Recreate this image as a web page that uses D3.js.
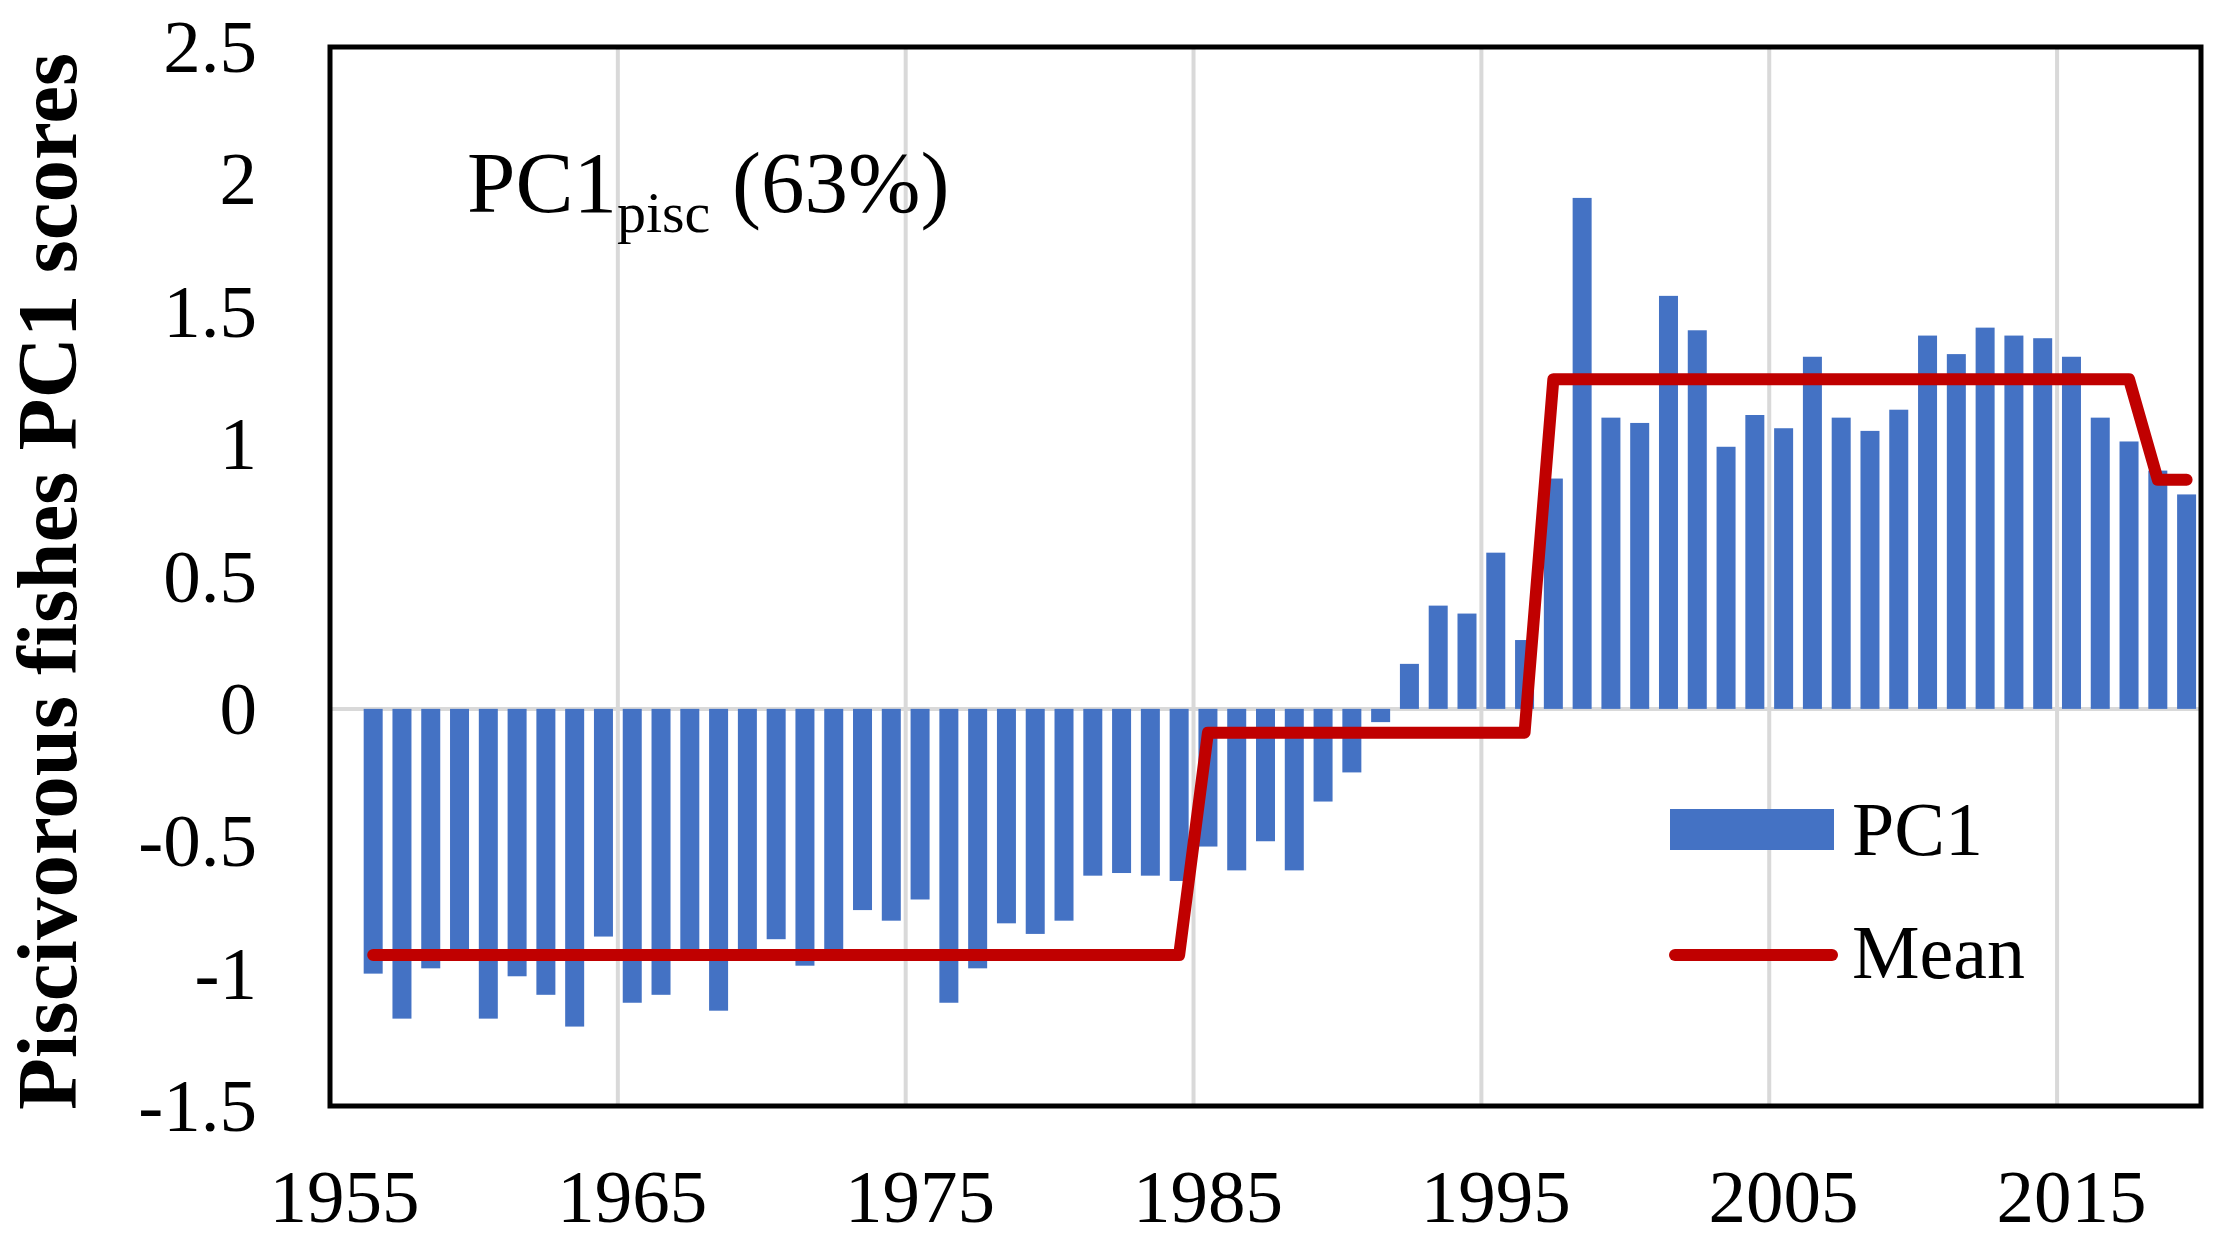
<!DOCTYPE html>
<html>
<head>
<meta charset="utf-8">
<script src="https://d3js.org/d3.v7.min.js"></script>
<style>
  body { margin: 0; background: #fff; }
  svg { display: block; }
  text { font-family: "Liberation Serif", "Times New Roman", serif; fill: #000; }
</style>
</head>
<body>
<svg id="chart" width="2217" height="1238" viewBox="0 0 2217 1238"></svg>
<script>
// years on the category axis (1955 has no value)
const years = d3.range(1955, 2020);

// PC1 scores, 1956..2019
const pcYears = d3.range(1956, 2020);
const pcValues = [
  -1.00, -1.17, -0.98, -0.92, -1.17, -1.01, -1.08, -1.20, -0.86,
  -1.11, -1.08, -0.93, -1.14, -0.94, -0.87, -0.97, -0.92, -0.76, -0.80,
  -0.72, -1.11, -0.98, -0.81, -0.85, -0.80, -0.63, -0.62, -0.63, -0.65,
  -0.52, -0.61, -0.50, -0.61, -0.35, -0.24, -0.05, 0.17, 0.39, 0.36,
  0.59, 0.26, 0.87, 1.93, 1.10, 1.08, 1.56, 1.43, 0.99, 1.11,
  1.06, 1.33, 1.10, 1.05, 1.13, 1.41, 1.34, 1.44, 1.41, 1.40,
  1.33, 1.10, 1.01, 0.90, 0.81
];

// regime means, 1956..2019
const meanValues = [
  -0.93, -0.93, -0.93, -0.93, -0.93, -0.93, -0.93, -0.93, -0.93,
  -0.93, -0.93, -0.93, -0.93, -0.93, -0.93, -0.93, -0.93, -0.93, -0.93,
  -0.93, -0.93, -0.93, -0.93, -0.93, -0.93, -0.93, -0.93, -0.93, -0.93,
  -0.09, -0.09, -0.09, -0.09, -0.09, -0.09, -0.09, -0.09, -0.09, -0.09,
  -0.09, -0.09, 1.245, 1.245, 1.245, 1.245, 1.245, 1.245, 1.245, 1.245,
  1.245, 1.245, 1.245, 1.245, 1.245, 1.245, 1.245, 1.245, 1.245, 1.245,
  1.245, 1.245, 1.245, 0.865, 0.865
];

const yTicks = [2.5, 2, 1.5, 1, 0.5, 0, -0.5, -1, -1.5];
const xTickYears = [1955, 1965, 1975, 1985, 1995, 2005, 2015];

const barColor  = "#4472C4";
const meanColor = "#C00000";
const gridColor = "#D9D9D9";

const svg = d3.select("#chart");

svg.append("rect")
  .attr("width", 2217).attr("height", 1238)
  .attr("fill", "#fff");

// plot area
const plotL = 330, plotR = 2201, plotT = 47, plotB = 1106;

const x = d3.scaleBand()
  .domain(years)
  .range([plotL, plotR])
  .paddingInner(0.34)
  .paddingOuter(0.17);

const y = d3.scaleLinear()
  .domain([-1.5, 2.5])
  .range([plotB, plotT]);

const step = x.step();
const catLeft = yr => x(yr) - step * 0.17;    // left edge of a category slot
const catMid  = yr => x(yr) + x.bandwidth() / 2;

// vertical gridlines between categories
svg.append("g")
  .selectAll("line")
  .data(xTickYears.slice(1))
  .join("line")
  .attr("x1", d => catLeft(d)).attr("x2", d => catLeft(d))
  .attr("y1", plotT).attr("y2", plotB)
  .attr("stroke", gridColor)
  .attr("stroke-width", 4);

// zero line
svg.append("line")
  .attr("x1", plotL).attr("x2", plotR)
  .attr("y1", y(0)).attr("y2", y(0))
  .attr("stroke", gridColor)
  .attr("stroke-width", 4);

// bars
const pcData = pcYears.map((yr, i) => ({ year: yr, value: pcValues[i] }));

svg.append("g")
  .selectAll("rect")
  .data(pcData)
  .join("rect")
  .attr("x", d => x(d.year))
  .attr("width", x.bandwidth())
  .attr("y", d => y(Math.max(0, d.value)))
  .attr("height", d => Math.abs(y(d.value) - y(0)))
  .attr("fill", barColor);

// mean line
const meanData = pcYears.map((yr, i) => ({ year: yr, value: meanValues[i] }));

const line = d3.line()
  .x(d => catMid(d.year))
  .y(d => y(d.value));

svg.append("path")
  .datum(meanData)
  .attr("d", line)
  .attr("fill", "none")
  .attr("stroke", meanColor)
  .attr("stroke-width", 12)
  .attr("stroke-linejoin", "round")
  .attr("stroke-linecap", "round");

// frame
svg.append("rect")
  .attr("x", plotL).attr("y", plotT)
  .attr("width", plotR - plotL).attr("height", plotB - plotT)
  .attr("fill", "none")
  .attr("stroke", "#000")
  .attr("stroke-width", 5);

// y tick labels
svg.append("g")
  .selectAll("text")
  .data(yTicks)
  .join("text")
  .attr("x", 257)
  .attr("y", d => y(d) + 25)
  .attr("text-anchor", "end")
  .attr("font-size", "75px")
  .text(d => String(d));

// x tick labels, centred on their category
svg.append("g")
  .selectAll("text")
  .data(xTickYears)
  .join("text")
  .attr("x", d => catMid(d))
  .attr("y", 1222)
  .attr("text-anchor", "middle")
  .attr("font-size", "75px")
  .text(d => d);

// y axis title
svg.append("text")
  .attr("transform", `translate(76,${(46 + 1117) / 2}) rotate(-90)`)
  .attr("text-anchor", "middle")
  .attr("font-size", "85px")
  .attr("font-weight", "bold")
  .text("Piscivorous fishes PC1 scores");

// annotation
const note = svg.append("text")
  .attr("x", 467)
  .attr("y", 212)
  .attr("font-size", "87px");
note.append("tspan").text("PC1");
note.append("tspan")
  .attr("font-size", "58px")
  .attr("dy", 20)
  .text("pisc");
note.append("tspan")
  .attr("dy", -20)
  .text(" (63%)");

// legend
const legend = svg.append("g");

legend.append("rect")
  .attr("x", 1670).attr("y", 809)
  .attr("width", 164).attr("height", 41)
  .attr("fill", barColor);

legend.append("text")
  .attr("x", 1852).attr("y", 855)
  .attr("font-size", "76px")
  .text("PC1");

legend.append("line")
  .attr("x1", 1675).attr("x2", 1832)
  .attr("y1", 955).attr("y2", 955)
  .attr("stroke", meanColor)
  .attr("stroke-width", 12)
  .attr("stroke-linecap", "round");

legend.append("text")
  .attr("x", 1852).attr("y", 978)
  .attr("font-size", "76px")
  .text("Mean");
</script>
</body>
</html>
